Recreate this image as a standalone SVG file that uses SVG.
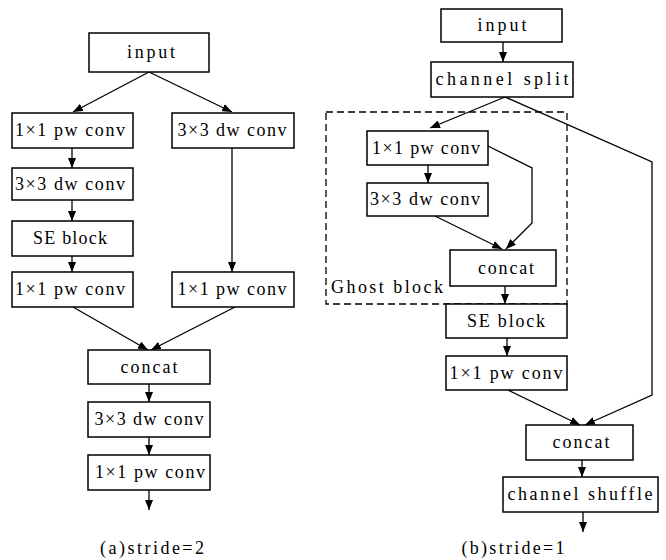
<svg xmlns="http://www.w3.org/2000/svg" width="666" height="560" viewBox="0 0 666 560">
<style>
.box{fill:#fff;stroke:#000;stroke-width:1.5}
.t{font-family:"Liberation Serif","Noto Sans CJK SC",serif;font-size:18px;fill:#000;text-anchor:middle}
.c{fill:none;stroke:#000;stroke-width:1.3}
.cap{font-family:"Liberation Serif","Noto Sans CJK SC",serif;font-size:18px;fill:#000;text-anchor:middle}
</style>
<defs>
<marker id="ah" markerUnits="userSpaceOnUse" markerWidth="10" markerHeight="8" refX="10" refY="4" orient="auto">
<path d="M0,0 L10,4 L0,8 z" fill="#000"/>
</marker>
</defs>
<rect width="666" height="560" fill="#fff"/>
<g id="connectors">
<line class="c" x1="149" y1="72" x2="73" y2="112" marker-end="url(#ah)"/>
<line class="c" x1="149" y1="72" x2="232" y2="112" marker-end="url(#ah)"/>
<line class="c" x1="72" y1="148" x2="72" y2="168" marker-end="url(#ah)"/>
<line class="c" x1="72" y1="200" x2="72" y2="221" marker-end="url(#ah)"/>
<line class="c" x1="72" y1="256" x2="72" y2="272" marker-end="url(#ah)"/>
<line class="c" x1="232" y1="148" x2="232" y2="272" marker-end="url(#ah)"/>
<line class="c" x1="73" y1="307" x2="148" y2="350" marker-end="url(#ah)"/>
<line class="c" x1="235" y1="307" x2="151" y2="350" marker-end="url(#ah)"/>
<line class="c" x1="149" y1="384" x2="149" y2="402" marker-end="url(#ah)"/>
<line class="c" x1="149" y1="437" x2="149" y2="455" marker-end="url(#ah)"/>
<line class="c" x1="149" y1="490" x2="149" y2="510" marker-end="url(#ah)"/>
<line class="c" x1="503" y1="42" x2="503" y2="62" marker-end="url(#ah)"/>
<line class="c" x1="505" y1="97" x2="430" y2="128" marker-end="url(#ah)"/>
<polyline class="c" points="505,97 652,162 652,395 585,425" marker-end="url(#ah)"/>
<line class="c" x1="428" y1="165" x2="428" y2="183" marker-end="url(#ah)"/>
<polyline class="c" points="488,146 532,168 532,223 506,249" marker-end="url(#ah)"/>
<line class="c" x1="435" y1="216" x2="502" y2="249" marker-end="url(#ah)"/>
<line class="c" x1="505" y1="286" x2="505" y2="304" marker-end="url(#ah)"/>
<line class="c" x1="507" y1="338" x2="507" y2="356" marker-end="url(#ah)"/>
<line class="c" x1="508" y1="390" x2="580" y2="425" marker-end="url(#ah)"/>
<line class="c" x1="582" y1="460" x2="582" y2="477" marker-end="url(#ah)"/>
<line class="c" x1="583" y1="512" x2="583" y2="532" marker-end="url(#ah)"/>
</g>
<g id="ghost_block">
<rect x="326" y="112" width="241" height="192" fill="none" stroke="#000" stroke-width="1.3" stroke-dasharray="7,4"/>
<text x="331" y="293" class="t" style="text-anchor:start" textLength="112" lengthAdjust="spacing">Ghost block</text>
</g>
<g id="a_input"><rect class="box" x="89" y="33" width="120" height="39"/><text class="t" x="151" y="58" textLength="48" lengthAdjust="spacing">input</text></g>
<g id="a_pw1"><rect class="box" x="12" y="113" width="121" height="35"/><text class="t" x="70" y="136" textLength="110" lengthAdjust="spacing">1×1 pw conv</text></g>
<g id="a_dw_right"><rect class="box" x="172" y="113" width="122" height="35"/><text class="t" x="232" y="136" textLength="109" lengthAdjust="spacing">3×3 dw conv</text></g>
<g id="a_dw1"><rect class="box" x="12" y="168" width="121" height="32"/><text class="t" x="70" y="190" textLength="110" lengthAdjust="spacing">3×3 dw conv</text></g>
<g id="a_se"><rect class="box" x="12" y="221" width="121" height="35"/><text class="t" x="70" y="244" textLength="74" lengthAdjust="spacing">SE block</text></g>
<g id="a_pw2"><rect class="box" x="12" y="272" width="121" height="35"/><text class="t" x="70" y="295" textLength="110" lengthAdjust="spacing">1×1 pw conv</text></g>
<g id="a_pw_right"><rect class="box" x="172" y="272" width="122" height="35"/><text class="t" x="232" y="295" textLength="109" lengthAdjust="spacing">1×1 pw conv</text></g>
<g id="a_concat"><rect class="box" x="88" y="350" width="122" height="34"/><text class="t" x="149" y="373" textLength="57" lengthAdjust="spacing">concat</text></g>
<g id="a_dw3"><rect class="box" x="88" y="402" width="122" height="35"/><text class="t" x="149" y="425" textLength="109" lengthAdjust="spacing">3×3 dw conv</text></g>
<g id="a_pw3"><rect class="box" x="88" y="455" width="122" height="35"/><text class="t" x="150" y="478" textLength="110" lengthAdjust="spacing">1×1 pw conv</text></g>
<g id="b_input"><rect class="box" x="441" y="9" width="121" height="33"/><text class="t" x="502" y="31" textLength="49" lengthAdjust="spacing">input</text></g>
<g id="b_split"><rect class="box" x="431" y="62" width="142" height="35"/><text class="t" x="502" y="85" textLength="133" lengthAdjust="spacing">channel split</text></g>
<g id="b_pw1"><rect class="box" x="367" y="131" width="121" height="34"/><text class="t" x="426" y="154" textLength="108" lengthAdjust="spacing">1×1 pw conv</text></g>
<g id="b_dw"><rect class="box" x="367" y="183" width="121" height="33"/><text class="t" x="425" y="205" textLength="110" lengthAdjust="spacing">3×3 dw conv</text></g>
<g id="b_concat1"><rect class="box" x="450" y="250" width="106" height="36"/><text class="t" x="506" y="274" textLength="56" lengthAdjust="spacing">concat</text></g>
<g id="b_se"><rect class="box" x="446" y="304" width="121" height="34"/><text class="t" x="506" y="327" textLength="78" lengthAdjust="spacing">SE block</text></g>
<g id="b_pw2"><rect class="box" x="446" y="356" width="121" height="34"/><text class="t" x="506" y="379" textLength="113" lengthAdjust="spacing">1×1 pw conv</text></g>
<g id="b_concat2"><rect class="box" x="526" y="425" width="107" height="35"/><text class="t" x="581" y="448" textLength="57" lengthAdjust="spacing">concat</text></g>
<g id="b_shuffle"><rect class="box" x="503" y="477" width="155" height="35"/><text class="t" x="580" y="500" textLength="145" lengthAdjust="spacing">channel shuffle</text></g>
<text class="cap" x="152" y="554" textLength="104" lengthAdjust="spacing">(a)stride=2</text>
<text class="cap" x="513" y="554" textLength="103" lengthAdjust="spacing">(b)stride=1</text>
</svg>
